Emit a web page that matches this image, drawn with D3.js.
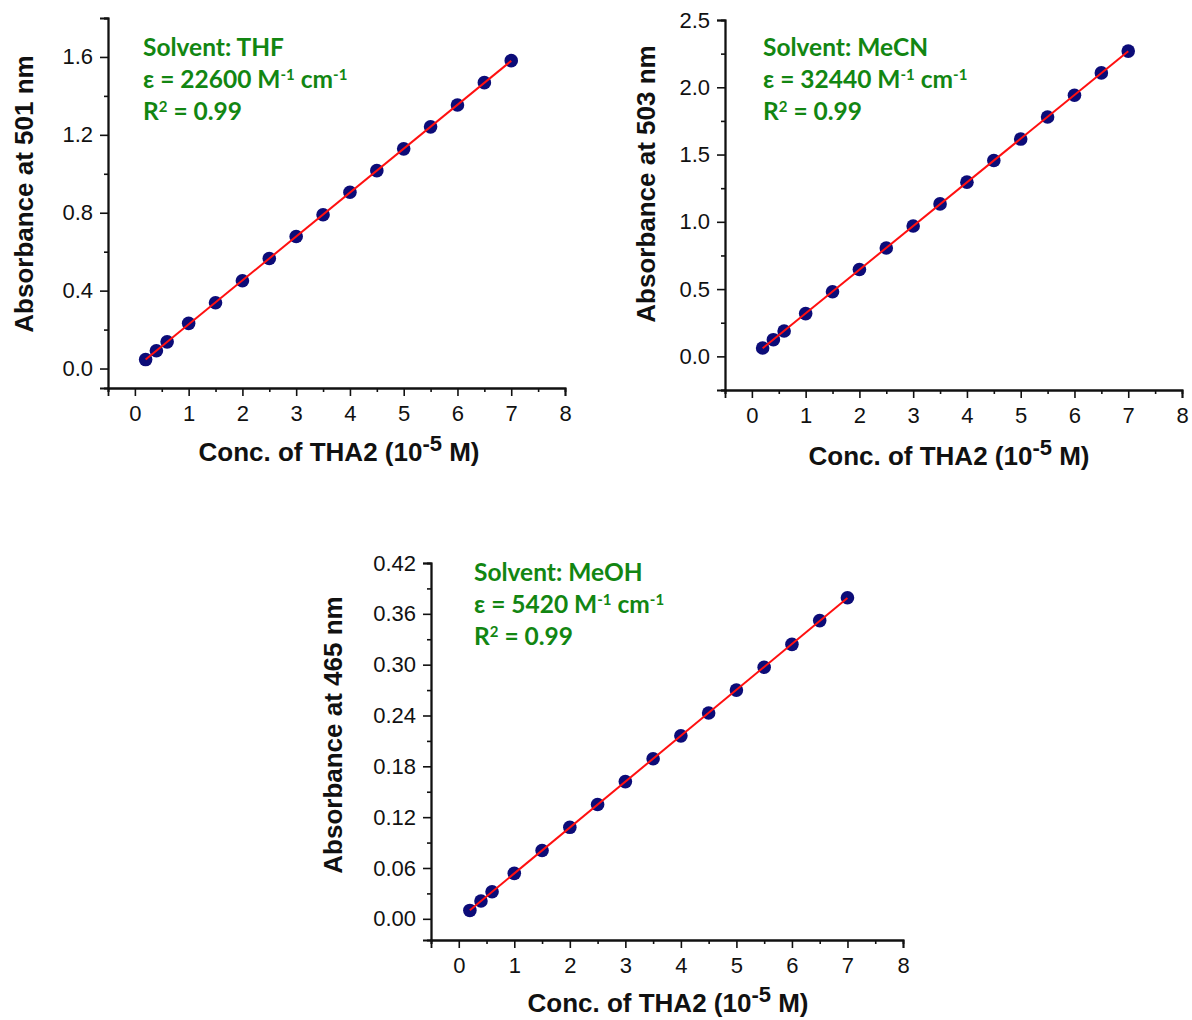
<!DOCTYPE html>
<html><head><meta charset="utf-8">
<script src="https://cdn.jsdelivr.net/npm/d3@7"></script>
<style>body{margin:0;background:#fff}svg{display:block}</style>
</head><body>
<svg id="c" width="1192" height="1020"></svg>
<script>
// ---- data ----
const conc = [0.2, 0.4, 0.6, 1, 1.5, 2, 2.5, 3, 3.5, 4, 4.5, 5, 5.5, 6, 6.5, 7];
const absTHF  = [0.046, 0.091, 0.137, 0.232, 0.338, 0.451, 0.565, 0.678, 0.790, 0.905, 1.016, 1.128, 1.241, 1.353, 1.468, 1.581];
const absMeCN = [0.062, 0.124, 0.189, 0.318, 0.480, 0.646, 0.805, 0.969, 1.133, 1.295, 1.456, 1.615, 1.779, 1.941, 2.107, 2.269];
const absMeOH = [0.0099, 0.021, 0.032, 0.0537, 0.0806, 0.108, 0.135, 0.162, 0.189, 0.216, 0.243, 0.270, 0.297, 0.324, 0.352, 0.379];
const xTicks = [0, 1, 2, 3, 4, 5, 6, 7, 8];
const xMinor = [-0.5, 0.5, 1.5, 2.5, 3.5, 4.5, 5.5, 6.5, 7.5];
const yTicksTHF = [0, 0.4, 0.8, 1.2, 1.6];
const yMinorTHF = [0.2, 0.6, 1.0, 1.4, 1.8];
const yTicksMeCN = [0, 0.5, 1.0, 1.5, 2.0, 2.5];
const yMinorMeCN = [-0.25, 0.25, 0.75, 1.25, 1.75, 2.25];
const yTicksMeOH = [0, 0.06, 0.12, 0.18, 0.24, 0.30, 0.36, 0.42];
const yMinorMeOH = [0.03, 0.09, 0.15, 0.21, 0.27, 0.33, 0.39];
const solvents = ["THF", "MeCN", "MeOH"];
const epsilons = ["22600", "32440", "5420"];
const wavelengths = ["501", "503", "465"];
const r2 = ["0.99", "0.99", "0.99"];

const svg = d3.select("#c");
const green = "#128612";

const panels = [
  {y: absTHF, yt: yTicksTHF, ym: yMinorTHF, ydom: [-0.1, 1.8], fmt: ".1f",
   left: 108, right: 565, top: 18, bottom: 388, ann: [143, 56], ytx: 33, yty: 194, xtx: 339, xty: 461},
  {y: absMeCN, yt: yTicksMeCN, ym: yMinorMeCN, ydom: [-0.25, 2.5], fmt: ".1f",
   left: 725, right: 1182, top: 20, bottom: 390, ann: [763, 56], ytx: 655, yty: 184, xtx: 949, xty: 465},
  {y: absMeOH, yt: yTicksMeOH, ym: yMinorMeOH, ydom: [-0.025, 0.42], fmt: ".2f",
   left: 431, right: 903, top: 563, bottom: 940, ann: [474, 581], ytx: 342, yty: 735, xtx: 668, xty: 1012}
];

panels.forEach((p, i) => {
  const x = d3.scaleLinear().domain([-0.5, 8]).range([p.left, p.right]);
  const y = d3.scaleLinear().domain(p.ydom).range([p.bottom, p.top]);
  const g = svg.append("g");

  // axes
  const xAxis = d3.axisBottom(x).tickValues(xTicks).tickSize(8).tickPadding(9).tickFormat(d3.format("d"));
  const xMinAxis = d3.axisBottom(x).tickValues(xMinor).tickSize(4).tickFormat("");
  const yAxis = d3.axisLeft(y).tickValues(p.yt).tickSize(8).tickPadding(7).tickFormat(d3.format(p.fmt));
  const yMinAxis = d3.axisLeft(y).tickValues(p.ym).tickSize(4).tickFormat("");

  [[xMinAxis, "x"], [xAxis, "x"], [yMinAxis, "y"], [yAxis, "y"]].forEach(([ax, t]) => {
    const a = g.append("g")
      .attr("transform", t === "x" ? `translate(0,${p.bottom})` : `translate(${p.left},0)`)
      .call(ax);
    a.select(".domain").attr("stroke", "#111").attr("stroke-width", 1.8);
    a.selectAll(".tick line").attr("stroke", "#111").attr("stroke-width", 1.6);
    a.selectAll(".tick text").attr("font-family", "'Liberation Sans', Arial, sans-serif")
      .attr("font-size", 22).attr("fill", "#111");
  });

  // regression line from data
  const xs = conc, ys = p.y;
  const mx = d3.mean(xs), my = d3.mean(ys);
  const slope = d3.sum(xs, (v, k) => (v - mx) * (ys[k] - my)) / d3.sum(xs, v => (v - mx) ** 2);
  const icpt = my - slope * mx;
  const ext = d3.extent(xs);
  const lineGen = d3.line().x(d => x(d[0])).y(d => y(d[1]));

  // points
  g.selectAll("circle").data(xs.map((v, k) => [v, ys[k]])).join("circle")
    .attr("cx", d => x(d[0])).attr("cy", d => y(d[1])).attr("r", 6.8)
    .attr("fill", "#0c0c78");
  g.append("path")
    .datum(ext.map(v => [v, icpt + slope * v]))
    .attr("d", lineGen)
    .attr("stroke", "#ff1010").attr("stroke-width", 2).attr("fill", "none");

  // axis titles
  const tf = "'Liberation Sans', Arial, sans-serif";
  g.append("text")
    .attr("transform", `translate(${p.ytx},${p.yty}) rotate(-90)`)
    .attr("text-anchor", "middle").attr("font-family", tf).attr("font-weight", "bold")
    .attr("font-size", 26).attr("fill", "#111")
    .text(`Absorbance at ${wavelengths[i]} nm`);
  const xt = g.append("text")
    .attr("x", p.xtx).attr("y", p.xty)
    .attr("text-anchor", "middle").attr("font-family", tf).attr("font-weight", "bold")
    .attr("font-size", 26).attr("fill", "#111");
  xt.append("tspan").text("Conc. of THA2 (10");
  xt.append("tspan").attr("dy", -10).attr("font-size", 22).text("-5");
  xt.append("tspan").attr("dy", 10).text(" M)");

  // annotation
  const af = "Lato, 'Open Sans', sans-serif";
  const ag = g.append("g").attr("font-family", af).attr("font-weight", "bold")
    .attr("font-size", 24.5).attr("fill", green);
  ag.append("text").attr("x", p.ann[0]).attr("y", p.ann[1]).text(`Solvent: ${solvents[i]}`);
  const e = ag.append("text").attr("x", p.ann[0]).attr("y", p.ann[1] + 32);
  e.append("tspan").text(`\u03b5 = ${epsilons[i]} M`);
  e.append("tspan").attr("dy", -8).attr("font-size", 15).text("-1");
  e.append("tspan").attr("dy", 8).text(" cm");
  e.append("tspan").attr("dy", -8).attr("font-size", 15).text("-1");
  const r = ag.append("text").attr("x", p.ann[0]).attr("y", p.ann[1] + 64);
  r.append("tspan").text("R");
  r.append("tspan").attr("dy", -8).attr("font-size", 15).text("2");
  r.append("tspan").attr("dy", 8).text(` = ${r2[i]}`);
});
</script>
</body></html>
